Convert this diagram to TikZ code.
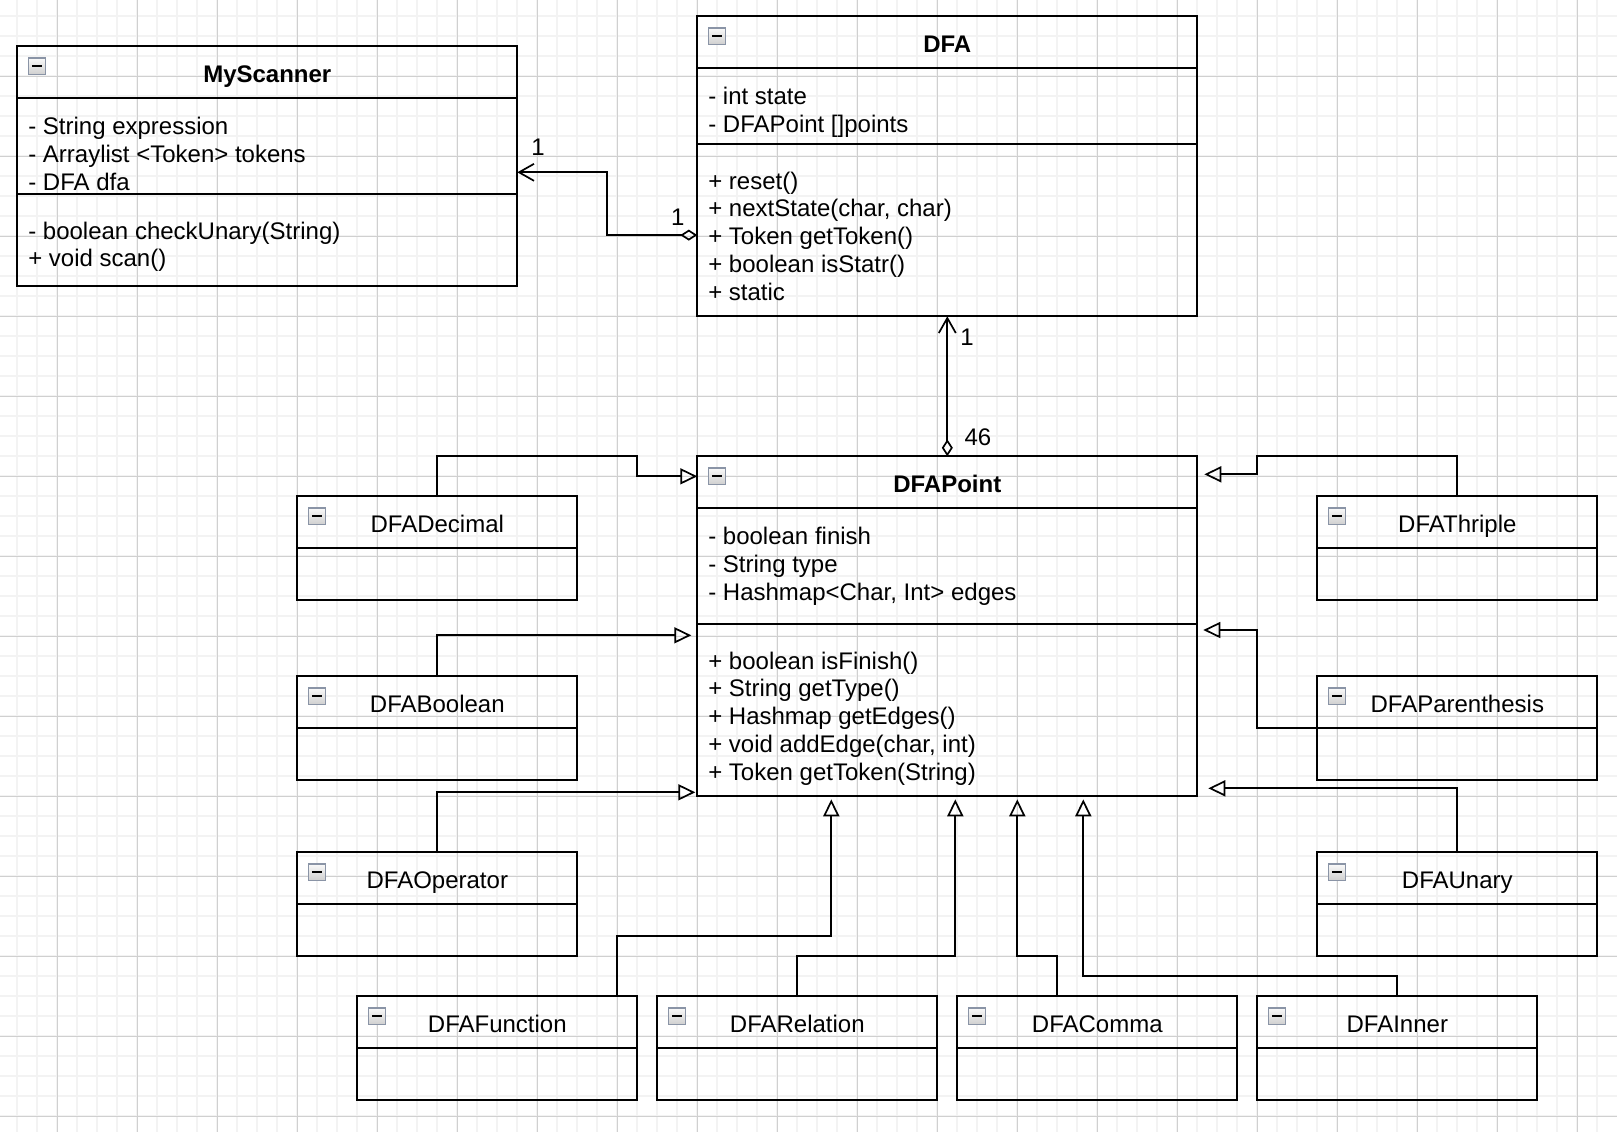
\documentclass[tikz,border=0pt]{standalone}
\usepackage{fontspec}
\setmainfont{Liberation Sans}
\usetikzlibrary{positioning, arrows.meta}
\definecolor{iconedge}{RGB}{138,148,166}
\definecolor{minorc}{RGB}{243,243,243}
\definecolor{majorc}{RGB}{208,208,208}

\begin{document}
\begin{tikzpicture}[x=1pt, y=-1pt,
        every node/.style={font=\fontsize{12pt}{13.9pt}\selectfont},
        hd/.style={draw, line width=1pt, anchor=north west, inner sep=0pt,
        outer sep=0pt, minimum height=26pt, text height=10.6pt, text depth=0pt},
        bhd/.style={hd, font=\fontsize{12pt}{13.9pt}\selectfont\bfseries},
        bd/.style={draw, line width=1pt, inner sep=0pt, outer sep=0pt},
        big/.style={minimum width=250pt},
        small/.style={minimum width=140pt},
        members/.style={align=left, anchor=north west, inner sep=0pt},
        collapse/.style={draw=iconedge, line width=0.6pt, top color=gray!4,
        bottom color=gray!38, minimum size=8.3pt, inner sep=0pt},
        mult/.style={inner sep=0pt, text height=8.6pt, text depth=0pt},
        gen/.style={line width=0.85pt, -{Triangle[open, length=8.5pt, width=8pt]}},
        assoc/.style={line width=0.85pt,
        {Diamond[open, length=8.5pt, width=5.5pt]}-{Straight Barb[length=7.5pt, width=8.5pt]}},
        gmin/.style={draw=minorc, line width=1pt},
        gmaj/.style={draw=majorc, line width=0.5pt}]
      % page and grid
      \fill[white] (-8.65,-8.15) rectangle (799.85,557.85);
      \useasboundingbox (-8.65,-8.15) rectangle (799.85,557.85);
      \foreach \gx in {0,10,...,790} \draw[gmin] (\gx,-8.15) -- (\gx,557.85);
      \foreach \gy in {0,10,...,550} \draw[gmin] (-8.65,\gy) -- (799.85,\gy);
      \foreach \gx in {20,60,...,780} \draw[gmaj] (\gx,-8.15) -- (\gx,557.85);
      \foreach \gy in {30,70,...,550} \draw[gmaj] (-8.65,\gy) -- (799.85,\gy);

      % MyScanner
      \node[bhd, big] (scanner) at (0,15) {MyScanner};
      \node[bd, big, minimum height=48pt, below=0pt of scanner] (scanner-a) {};
      \node[bd, big, minimum height=46pt, below=0pt of scanner-a] (scanner-m) {};
      \node[collapse, below right=5.5pt and 5.3pt of scanner.north west] (scanner-i) {\rule{5pt}{1pt}};
      \node[members, below right=9.4pt and 5.3pt of scanner-a.north west] (scanner-at)
        {- String expression\\- Arraylist <Token> tokens\\- DFA dfa};
      \node[members, below right=13.5pt and 5.3pt of scanner-m.north west] (scanner-mt)
        {- boolean checkUnary(String)\\+ void scan()};

      % DFA
      \node[bhd, big] (dfa) at (340,0) {DFA};
      \node[bd, big, minimum height=38pt, below=0pt of dfa] (dfa-a) {};
      \node[bd, big, minimum height=86pt, below=0pt of dfa-a] (dfa-m) {};
      \node[collapse, below right=5.5pt and 5.3pt of dfa.north west] (dfa-i) {\rule{5pt}{1pt}};
      \node[members, below right=9.4pt and 5.3pt of dfa-a.north west] (dfa-at)
        {- int state\\- DFAPoint []points};
      \node[members, below right=13.5pt and 5.3pt of dfa-m.north west] (dfa-mt)
        {+ reset()\\+ nextState(char, char)\\+ Token getToken()\\+ boolean isStatr()\\+ static};

      % DFAPoint
      \node[bhd, big] (point) at (340,220) {DFAPoint};
      \node[bd, big, minimum height=58pt, below=0pt of point] (point-a) {};
      \node[bd, big, minimum height=86pt, below=0pt of point-a] (point-m) {};
      \node[collapse, below right=5.5pt and 5.3pt of point.north west] (point-i) {\rule{5pt}{1pt}};
      \node[members, below right=9.4pt and 5.3pt of point-a.north west] (point-at)
        {- boolean finish\\- String type\\- Hashmap<Char, Int> edges};
      \node[members, below right=13.5pt and 5.3pt of point-m.north west] (point-mt)
        {+ boolean isFinish()\\+ String getType()\\+ Hashmap getEdges()\\+ void addEdge(char, int)\\+ Token getToken(String)};

      % subclasses
      \node[hd, small] (decimal) at (140,240) {DFADecimal};
      \node[bd, small, minimum height=26pt, below=0pt of decimal] (decimal-b) {};
      \node[collapse, below right=5.5pt and 5.3pt of decimal.north west] (decimal-i) {\rule{5pt}{1pt}};
      \node[hd, small] (boolean) at (140,330) {DFABoolean};
      \node[bd, small, minimum height=26pt, below=0pt of boolean] (boolean-b) {};
      \node[collapse, below right=5.5pt and 5.3pt of boolean.north west] (boolean-i) {\rule{5pt}{1pt}};
      \node[hd, small] (operator) at (140,418) {DFAOperator};
      \node[bd, small, minimum height=26pt, below=0pt of operator] (operator-b) {};
      \node[collapse, below right=5.5pt and 5.3pt of operator.north west] (operator-i) {\rule{5pt}{1pt}};
      \node[hd, small] (thriple) at (650,240) {DFAThriple};
      \node[bd, small, minimum height=26pt, below=0pt of thriple] (thriple-b) {};
      \node[collapse, below right=5.5pt and 5.3pt of thriple.north west] (thriple-i) {\rule{5pt}{1pt}};
      \node[hd, small] (paren) at (650,330) {DFAParenthesis};
      \node[bd, small, minimum height=26pt, below=0pt of paren] (paren-b) {};
      \node[collapse, below right=5.5pt and 5.3pt of paren.north west] (paren-i) {\rule{5pt}{1pt}};
      \node[hd, small] (unary) at (650,418) {DFAUnary};
      \node[bd, small, minimum height=26pt, below=0pt of unary] (unary-b) {};
      \node[collapse, below right=5.5pt and 5.3pt of unary.north west] (unary-i) {\rule{5pt}{1pt}};
      \node[hd, small] (function) at (170,490) {DFAFunction};
      \node[bd, small, minimum height=26pt, below=0pt of function] (function-b) {};
      \node[collapse, below right=5.5pt and 5.3pt of function.north west] (function-i) {\rule{5pt}{1pt}};
      \node[hd, small] (relation) at (320,490) {DFARelation};
      \node[bd, small, minimum height=26pt, below=0pt of relation] (relation-b) {};
      \node[collapse, below right=5.5pt and 5.3pt of relation.north west] (relation-i) {\rule{5pt}{1pt}};
      \node[hd, small] (comma) at (470,490) {DFAComma};
      \node[bd, small, minimum height=26pt, below=0pt of comma] (comma-b) {};
      \node[collapse, below right=5.5pt and 5.3pt of comma.north west] (comma-i) {\rule{5pt}{1pt}};
      \node[hd, small] (inner) at (620,490) {DFAInner};
      \node[bd, small, minimum height=26pt, below=0pt of inner] (inner-b) {};
      \node[collapse, below right=5.5pt and 5.3pt of inner.north west] (inner-i) {\rule{5pt}{1pt}};

      % associations
      \draw[assoc] (dfa-m.west |- 0,109.4) -| (295,78) -- (scanner-a.east |- 0,78);
      \draw[assoc] (point.north) -- (dfa-m.south);
      \node[mult] (scanner-n) at (260.4,65.1) {1};
      \node[mult] (dfa-n) at (330.2,100.2) {1};
      \node[mult] (dfa-n2) at (474.9,160.2) {1};
      \node[mult] (point-n) at (480.3,210.2) {46};

      % inheritance
      \draw[gen] (decimal.north) |- (310,220) |- (point.west |- 0,230);
      \draw[gen, shorten >=3pt] (boolean.north) |- (point-m.west |- 0,309.5);
      \draw[gen, shorten >=1pt] (operator.north) |- (point-m.west |- 0,388);
      \draw[gen, shorten >=3.5pt] (thriple.north) |- (620,220) |- (point.east |- 0,229);
      \draw[gen, shorten >=3pt] (paren.south west) -| (620,306.85) -- (point-m.east |- 0,306.85);
      \draw[gen, shorten >=5.5pt] (unary.north) |- (point-m.east |- 0,386);
      \draw[gen, shorten >=1.5pt] (function.north -| 300,0) |- (407,460) -- (point-m.south -| 407,0);
      \draw[gen, shorten >=1.5pt] (relation.north) |- (469,470) -- (point-m.south -| 469,0);
      \draw[gen, shorten >=1.5pt] (comma.north -| 520,0) |- (500,470) -- (point-m.south -| 500,0);
      \draw[gen, shorten >=1.5pt] (inner.north) |- (533,480) -- (point-m.south -| 533,0);
    \end{tikzpicture}
\end{document}
